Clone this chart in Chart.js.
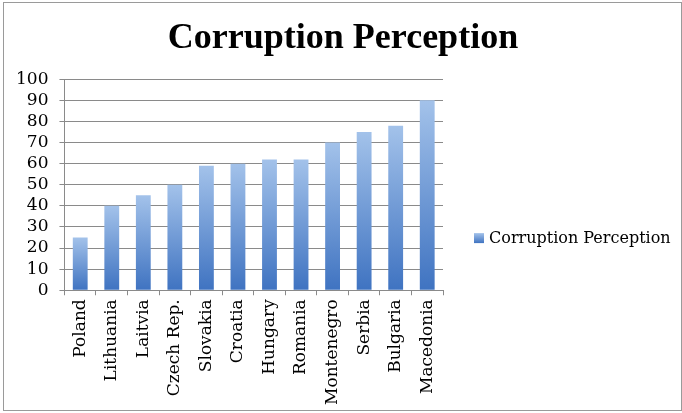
<!DOCTYPE html>
<html lang="en">
<head>
    <meta charset="utf-8">
    <title>Corruption Perception</title>
    <style>
        html, body { margin: 0; padding: 0; background: #fff; }
        #frame {
            position: absolute; left: 3px; top: 2px;
            width: 677px; height: 407px;
            border: 1px solid #9a9a9a;
        }
    </style>
</head>
<body>
<div id="frame">
    <canvas id="myChart" width="677" height="407"></canvas>
</div>
<script src="https://cdn.jsdelivr.net/npm/chart.js@4/dist/chart.umd.min.js"></script>
<script type="text/javascript">
    var countries = ['Poland', 'Lithuania', 'Laitvia', 'Czech Rep.', 'Slovakia', 'Croatia',
        'Hungary', 'Romania', 'Montenegro', 'Serbia', 'Bulgaria', 'Macedonia'];
    var scores = [25, 40, 45, 50, 59, 60, 62, 62, 70, 75, 78, 90];
    var seriesName = 'Corruption Perception';
    var yMin = 0, yMax = 100, yStep = 10;

    var serif = "'DejaVu Serif', serif";
    var lightBlue = '#a3c2ea';
    var darkBlue = '#3f73c1';

    // each bar gets its own top-to-bottom gradient
    function barFill(context) {
        var chart = context.chart;
        if (!chart.chartArea || context.parsed == null) return lightBlue;
        var y = chart.scales.y;
        var top = y.getPixelForValue(context.parsed.y);
        var bottom = y.getPixelForValue(0);
        var g = chart.ctx.createLinearGradient(0, top, 0, bottom);
        g.addColorStop(0, lightBlue);
        g.addColorStop(1, darkBlue);
        return g;
    }

    // legend drawn in the empty right-hand axis band
    var sideLegend = {
        id: 'sideLegend',
        afterDraw: function (chart) {
            var c = chart.ctx;
            var area = chart.chartArea;
            var cy = (area.top + chart.scales.x.bottom) / 2 - 6;
            var bx = area.right + 31;
            var g = c.createLinearGradient(0, cy - 5, 0, cy + 5);
            g.addColorStop(0, lightBlue);
            g.addColorStop(1, darkBlue);
            c.save();
            c.fillStyle = g;
            c.fillRect(bx, cy - 5, 10, 10);
            c.fillStyle = '#000';
            c.font = '16px ' + serif;
            c.textBaseline = 'middle';
            c.fillText(chart.data.datasets[0].label, bx + 15, cy + 1);
            c.restore();
        }
    };

    var ctx = document.getElementById('myChart');
    var chart = new Chart(ctx, {
        type: 'bar',
        data: {
            labels: countries,
            datasets: [{
                label: seriesName,
                data: scores,
                backgroundColor: barFill,
                borderWidth: 0,
                categoryPercentage: 1.0,
                barPercentage: 0.47
            }]
        },
        options: {
            responsive: false,
            animation: false,
            layout: { padding: { left: 1, right: 0, top: 0, bottom: 1 } },
            plugins: {
                title: {
                    display: true,
                    text: seriesName,
                    color: '#000',
                    font: { family: "'Liberation Serif', serif", size: 36, weight: 'bold' },
                    padding: { top: 14, bottom: 19 }
                },
                legend: { display: false },
                tooltip: { enabled: false }
            },
            scales: {
                x: {
                    offset: true,
                    grid: {
                        offset: true,
                        drawOnChartArea: false,
                        drawTicks: true,
                        tickLength: 5,
                        color: '#8a8a8a'
                    },
                    border: { color: '#8a8a8a' },
                    ticks: {
                        color: '#000',
                        font: { family: serif, size: 17 },
                        minRotation: 90,
                        maxRotation: 90,
                        autoSkip: false,
                        padding: 4
                    }
                },
                y: {
                    min: yMin,
                    max: yMax,
                    grid: { color: '#8a8a8a', tickLength: 5 },
                    border: { color: '#8a8a8a' },
                    ticks: {
                        stepSize: yStep,
                        autoSkip: false,
                        color: '#000',
                        font: { family: serif, size: 17 },
                        padding: 11
                    }
                },
                // empty band on the right that holds the legend
                side: {
                    type: 'linear',
                    position: 'right',
                    grid: { display: false },
                    border: { display: false },
                    ticks: { display: false },
                    afterFit: function (scale) { scale.width = 238; }
                }
            }
        },
        plugins: [sideLegend]
    });
</script>
</body>
</html>
